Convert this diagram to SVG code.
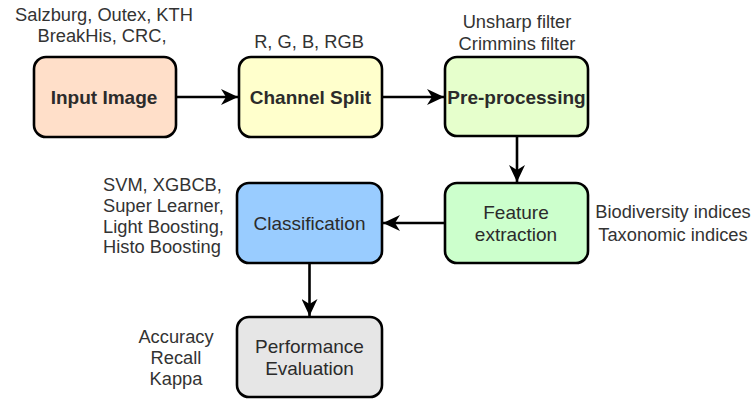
<svg xmlns="http://www.w3.org/2000/svg" width="756" height="400" viewBox="0 0 756 400">
<style>
.box{stroke:#000;stroke-width:2.6}
.lbl{font-family:"Liberation Sans",Arial,sans-serif;font-size:19px;fill:#2b2b2b;text-anchor:middle}
.b{font-weight:bold}
.ann{font-family:"Liberation Sans",Arial,sans-serif;font-size:18.3px;fill:#333;text-anchor:middle}
.st{text-anchor:start}
.edge{stroke:#000;stroke-width:2.6;fill:none}
</style>
<defs>
<marker id="arr" markerUnits="userSpaceOnUse" markerWidth="18" markerHeight="16" refX="17" refY="8" orient="auto">
<path d="M0,0 L17,8 L0,16 L5,8 Z" fill="#000"/>
</marker>
</defs>
<rect width="756" height="400" fill="#fff"/>
<g id="connectors">
<line class="edge" x1="176" y1="97" x2="238" y2="97" marker-end="url(#arr)"/>
<line class="edge" x1="382" y1="97" x2="444" y2="97" marker-end="url(#arr)"/>
<line class="edge" x1="517" y1="136" x2="517" y2="182" marker-end="url(#arr)"/>
<line class="edge" x1="445" y1="223" x2="383" y2="223" marker-end="url(#arr)"/>
<line class="edge" x1="309.5" y1="263" x2="309.5" y2="316" marker-end="url(#arr)"/>
</g>
<g id="input-image">
<rect class="box" x="34" y="57" width="142" height="80" rx="12" fill="#FFDFC9"/>
<text class="lbl b" x="104" y="103.5">Input Image</text>
<text class="ann" x="104" y="21">Salzburg, Outex, KTH</text>
<text class="ann" x="102" y="42">BreakHis, CRC,</text>
</g>
<g id="channel-split">
<rect class="box" x="239" y="57" width="143" height="80" rx="12" fill="#FFFFCC"/>
<text class="lbl b" x="310.5" y="103.5">Channel Split</text>
<text class="ann" x="309" y="48">R, G, B, RGB</text>
</g>
<g id="pre-processing">
<rect class="box" x="445" y="57" width="143" height="79" rx="12" fill="#E6FFCC"/>
<text class="lbl b" x="516.5" y="103.5">Pre-processing</text>
<text class="ann" x="517" y="28">Unsharp filter</text>
<text class="ann" x="517" y="50">Crimmins filter</text>
</g>
<g id="feature-extraction">
<rect class="box" x="445" y="183" width="143" height="80" rx="12" fill="#CCFFCC"/>
<text class="lbl" x="516" y="218.5">Feature</text>
<text class="lbl" x="516" y="240.5">extraction</text>
<text class="ann" x="673" y="218">Biodiversity indices</text>
<text class="ann" x="673" y="240.5">Taxonomic indices</text>
</g>
<g id="classification">
<rect class="box" x="237" y="183" width="145" height="80" rx="12" fill="#99CCFF"/>
<text class="lbl" x="309.5" y="229.5">Classification</text>
<text class="ann st" x="103" y="191">SVM, XGBCB,</text>
<text class="ann st" x="103" y="212">Super Learner,</text>
<text class="ann st" x="103" y="232.5">Light Boosting,</text>
<text class="ann st" x="103" y="253">Histo Boosting</text>
</g>
<g id="performance-evaluation">
<rect class="box" x="237" y="317" width="145" height="80" rx="12" fill="#E6E6E6"/>
<text class="lbl" x="309.5" y="352.5">Performance</text>
<text class="lbl" x="309.5" y="374.5">Evaluation</text>
<text class="ann" x="176" y="343">Accuracy</text>
<text class="ann" x="176" y="364">Recall</text>
<text class="ann" x="176" y="385">Kappa</text>
</g>
</svg>
